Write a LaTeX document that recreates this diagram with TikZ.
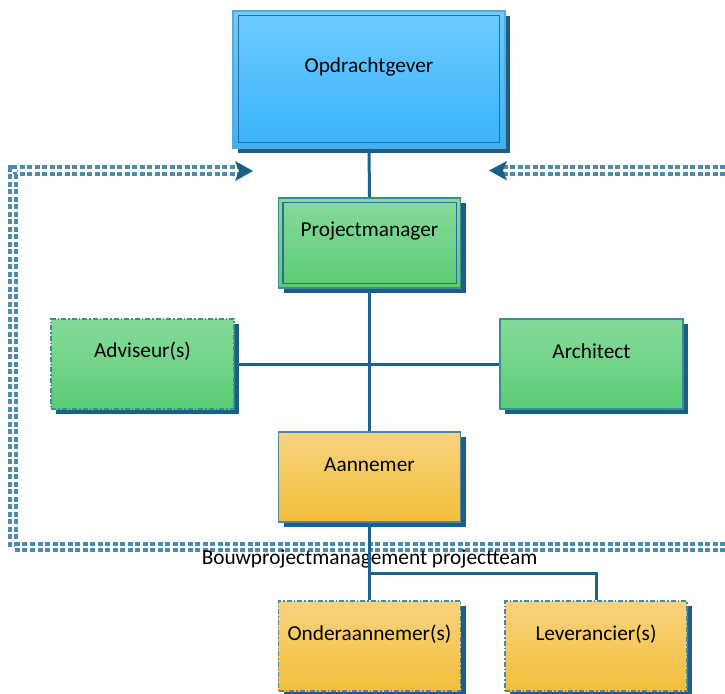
\documentclass[tikz,border=0pt]{standalone}
\usepackage{fontspec}
\setmainfont{Carlito}
\usetikzlibrary{calc,shadows}
\definecolor{shadowc}{HTML}{1B5E87}
\definecolor{linec}{HTML}{1F6290}
\definecolor{blueTop}{HTML}{6CCBFF}
\definecolor{blueBot}{HTML}{3AB3FA}
\definecolor{blueBorder}{HTML}{5AAAD8}
\definecolor{innerBorder}{HTML}{2B6E98}
\definecolor{greenTop}{HTML}{86DB9B}
\definecolor{greenBot}{HTML}{5BCC75}
\definecolor{greenBorder}{HTML}{3A8C95}
\definecolor{orTop}{HTML}{F8D37E}
\definecolor{orBot}{HTML}{F2BF3C}
\definecolor{orBorder}{HTML}{4F86A3}
\definecolor{frameC}{HTML}{4D8AAF}
\begin{document}
\begin{tikzpicture}[x=1pt,y=-1pt,
  base/.style={rectangle, inner sep=0pt, line width=1.2pt,
    drop shadow={shadow xshift=5pt, shadow yshift=-5pt, fill=shadowc, opacity=1}},
  bluebox/.style={base, draw=blueBorder, top color=blueTop, bottom color=blueBot},
  greenbox/.style={base, draw=greenBorder, top color=greenTop, bottom color=greenBot},
  orbox/.style={base, draw=orBorder, top color=orTop, bottom color=orBot},
  dd/.style={dash pattern=on 5pt off 2pt on 1.5pt off 2pt},
  innerb/.style={draw=innerBorder, line width=1.2pt},
  lbl/.style={font=\fontsize{21.3}{25}\selectfont, text=black, inner sep=0pt},
  conn/.style={draw=linec, line width=3pt},
  frame/.style={draw=frameC, line width=4pt, double=white, double distance=2.9pt, dash pattern=on 5pt off 2.5pt},
  tip/.style={fill=shadowc, draw=none}]
\useasboundingbox (0,0) rectangle (725,693);
\clip (0,0) rectangle (725,693);

% dashed frame
\coordinate (fa) at (242,170.5);
\coordinate (fb) at (500,170.5);
\draw[frame] (fa) -- (13,170.5) -- (13,547) -- (740,547);
\draw[frame] (740,170.5) -- (fb);
\fill[tip] (235,161) -- (253,171) -- (235,181) -- (239,171) -- cycle;
\fill[tip] (507,161) -- (489,170.5) -- (507,180.5) -- (503,170.5) -- cycle;

% boxes
\node[bluebox, minimum width=272pt, minimum height=137pt] (og) at (369,79.5) {};
\draw[innerb] ($(og.north west)+(6,5)$) rectangle ($(og.south east)+(-6,-6)$);
\node[greenbox, minimum width=182pt, minimum height=90pt] (pm) at (369.5,243) {};
\draw[innerb] ($(pm.north west)+(5,5)$) rectangle ($(pm.south east)+(-5,-5)$);
\node[greenbox, dd, minimum width=183pt, minimum height=90pt] (adv) at (142.5,364) {};
\node[greenbox, minimum width=183pt, minimum height=90pt] (arch) at (591.5,364) {};
\node[orbox, minimum width=182pt, minimum height=90pt] (ann) at (369.5,477) {};
\node[orbox, dd, minimum width=182pt, minimum height=90pt] (ond) at (369.5,646) {};
\node[orbox, dd, minimum width=182pt, minimum height=90pt] (lev) at (596,646) {};

% texts
\node[lbl] (og-t) at ([yshift=13pt]og.center) {Opdrachtgever};
\node[lbl] (pm-t) at ([yshift=12pt]pm.center) {Projectmanager};
\node[lbl] (adv-t) at ([yshift=13pt]adv.center) {Adviseur(s)};
\node[lbl] (arch-t) at ([yshift=13pt]arch.center) {Architect};
\node[lbl] (ann-t) at ([yshift=12pt]ann.center) {Aannemer};
\node[lbl] (ond-t) at ([yshift=12pt]ond.center) {Onderaannemer(s)};
\node[lbl] (lev-t) at ([yshift=12pt]lev.center) {Leverancier(s)};
\node[lbl] (team) at (369.5,559) {Bouwprojectmanagement projectteam};

% connectors
\coordinate (br) at (369.5,573);
\draw[conn] (og.south) -- (pm.north);
\draw[conn] (pm.south) -- (ann.north);
\draw[conn] (adv.east) -- (arch.west);
\draw[conn] (ann.south) -- (ond.north);
\draw[conn] (br) -| (lev.north);
\end{tikzpicture}
\end{document}
